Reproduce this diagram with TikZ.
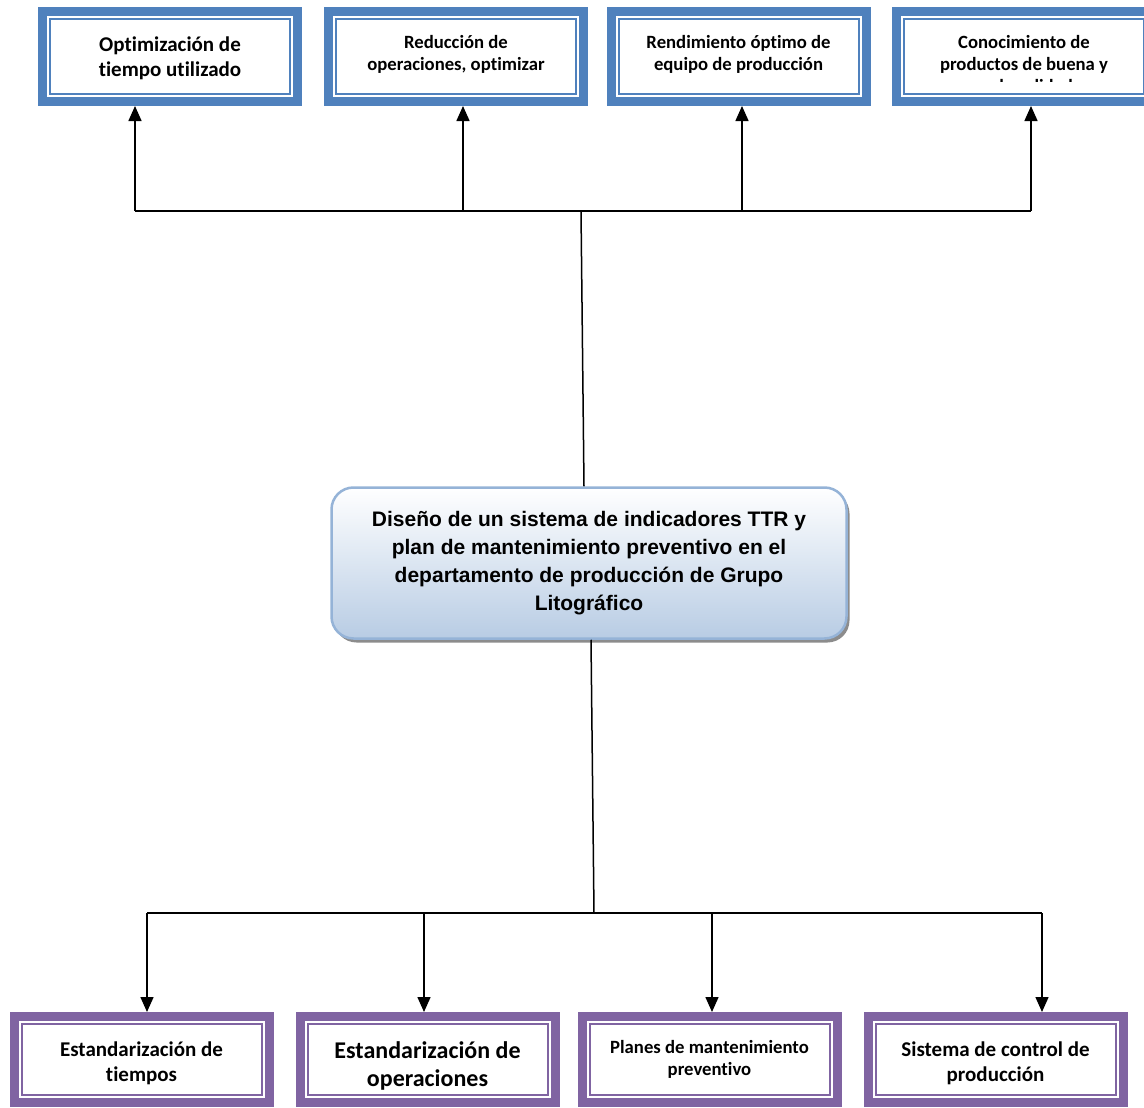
\documentclass[tikz,border=0pt]{standalone}
\usepackage{fontspec}
\setmainfont{Carlito}[Ligatures=NoCommon]
\newfontfamily\arialfont{Liberation Sans}
\usetikzlibrary{arrows.meta,positioning,shadows}
\definecolor{topblue}{RGB}{79,129,189}
\definecolor{lowpurple}{RGB}{128,100,162}
\definecolor{midedge}{RGB}{149,179,215}
\definecolor{midfill}{RGB}{184,204,228}
\newcommand{\txtM}{\fontsize{18.7}{22}\selectfont}
\newcommand{\txtL}{\fontsize{21}{25}\selectfont}
\newcommand{\txtXL}{\fontsize{24}{28}\selectfont}

\tikzset{
  framebox/.style={draw=#1, line width=9pt, minimum width=255pt, minimum height=87pt,
    inner sep=0pt,
    path picture={\draw[#1, line width=2pt]
      ([shift={(7.5pt,-7.5pt)}]path picture bounding box.north west) rectangle
      ([shift={(-7.5pt,7.5pt)}]path picture bounding box.south east);}},
  topbox/.style={framebox=topblue, minimum height=90pt},
  lowbox/.style={framebox=lowpurple, minimum height=86pt},
  boxtext/.style={align=center, inner sep=0pt, font=\bfseries#1},
  centerbox/.style={rounded corners=22pt, draw=midedge, line width=2.5pt,
    top color=white, bottom color=midfill, minimum width=515pt, minimum height=151pt,
    align=center, font=\arialfont\bfseries\fontsize{21}{28}\selectfont,
    drop shadow={shadow xshift=3pt, shadow yshift=-4pt, fill=black!45, opacity=1}},
  link/.style={line width=1.5pt},
  arr/.style={link, -{Triangle[length=15pt,width=13pt]}}
}

\begin{document}
\begin{tikzpicture}[x=1pt,y=1pt]
    \useasboundingbox (0,0) rectangle (1144,-1108);

    % results on top
    \node[topbox] (k1) at (170,-56.5) {};
    \node[topbox] (k2) at (456,-56.5) {};
    \node[topbox] (k3) at (738.5,-56.5) {};
    \node[topbox] (k4) at (1024,-56.5) {};
    \node[boxtext=\txtL] (k1t) at ([yshift=-2pt]k1.center) {Optimización de\\tiempo utilizado};
    \node[boxtext=\txtM] (k2t) at ([yshift=2pt]k2.center) {Reducción de\\operaciones, optimizar};
    \node[boxtext=\txtM] (k3t) at ([yshift=2pt]k3.center) {Rendimiento óptimo de\\equipo de producción};
    \begin{scope}
        \clip (900,-20) rectangle (1144,-82);
        \node[boxtext=\txtM, anchor=north] (k4t) at (1024,-35.5)
            {Conocimiento de\\productos de buena y\\mala calidad};
    \end{scope}

    % main box
    \node[centerbox] (plan) at (589,-563) {Diseño de un sistema de indicadores TTR y\\plan de mantenimiento preventivo en el\\departamento de producción de Grupo\\Litográfico};

    % actions at the bottom
    \node[lowbox] (b1) at (141.5,-1059.5) {};
    \node[lowbox] (b2) at (427.5,-1059.5) {};
    \node[lowbox] (b3) at (709.5,-1059.5) {};
    \node[lowbox] (b4) at (995.5,-1059.5) {};
    \node[boxtext=\txtL] (b1t) at ([yshift=-3.5pt]b1.center) {Estandarización de\\tiempos};
    \node[boxtext=\txtXL] (b2t) at ([yshift=-6pt]b2.center) {Estandarización de\\operaciones};
    \node[boxtext=\txtM] (b3t) at ([yshift=0.5pt]b3.center) {Planes de mantenimiento\\preventivo};
    \node[boxtext=\txtL] (b4t) at ([yshift=-3.5pt]b4.center) {Sistema de control de\\producción};

    % upper bus
    \coordinate (tl) at (135,-211);
    \coordinate (tr) at (1031,-211);
    \coordinate (tm) at (581,-211);
    \draw[link] (tl) -- (tr);
    \draw[link] (tm) -- ([xshift=-5pt]plan.north);
    \draw[arr] (tl) -- (tl |- k1.south);
    \draw[arr] ([xshift=7pt]k2.south |- tl) -- ([xshift=7pt]k2.south);
    \draw[arr] ([xshift=3.5pt]k3.south |- tl) -- ([xshift=3.5pt]k3.south);
    \draw[arr] (tr) -- (tr |- k4.south);

    % lower bus
    \coordinate (bl) at (147,-913);
    \coordinate (br) at (1042,-913);
    \coordinate (bm) at (594,-913);
    \draw[link] (bl) -- (br);
    \draw[link] ([xshift=2pt]plan.south) -- (bm);
    \draw[arr] (bl) -- (bl |- b1.north);
    \draw[arr] ([xshift=-3.5pt]b2.north |- bl) -- ([xshift=-3.5pt]b2.north);
    \draw[arr] ([xshift=2.5pt]b3.north |- bl) -- ([xshift=2.5pt]b3.north);
    \draw[arr] (br) -- (br |- b4.north);
\end{tikzpicture}
\end{document}
